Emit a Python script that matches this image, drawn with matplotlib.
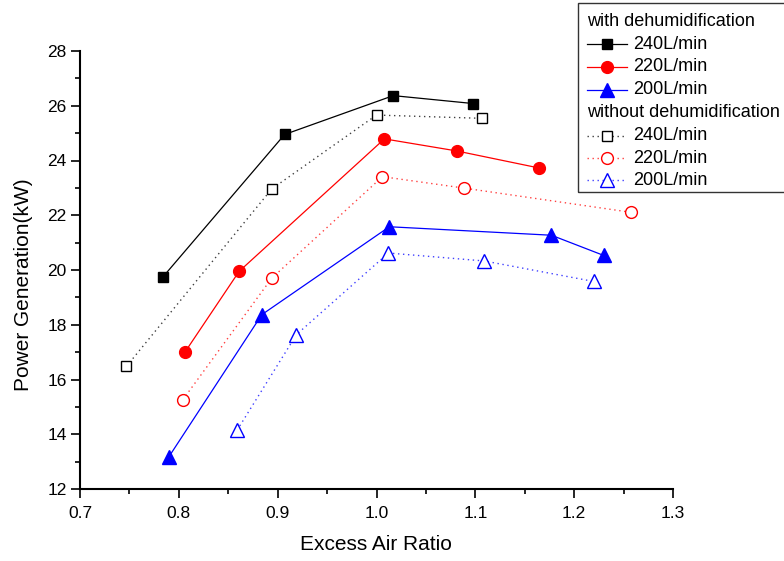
#!/usr/bin/env python
# -*- coding: utf-8 -*-
"""Power generation vs excess air ratio, with and without dehumidification."""
import matplotlib

matplotlib.use("Agg")
import matplotlib.pyplot as plt
from matplotlib.lines import Line2D
from matplotlib.patches import Rectangle
from matplotlib.ticker import MultipleLocator

plt.rcParams["font.family"] = ["Liberation Sans", "DejaVu Sans"]

# flow rate labels
flows = ["240L/min", "220L/min", "200L/min"]

# with dehumidification
x_240_with = [0.784, 0.907, 1.017, 1.098]
p_240_with = [19.75, 24.95, 26.37, 26.08]
x_220_with = [0.806, 0.861, 1.008, 1.081, 1.164]
p_220_with = [16.99, 19.95, 24.79, 24.35, 23.73]
x_200_with = [0.790, 0.884, 1.013, 1.177, 1.230]
p_200_with = [13.18, 18.37, 21.58, 21.27, 20.53]

# without dehumidification
x_240_wo = [0.747, 0.894, 1.000, 1.107]
p_240_wo = [16.48, 22.96, 25.66, 25.54]
x_220_wo = [0.804, 0.894, 1.006, 1.089, 1.257]
p_220_wo = [15.26, 19.70, 23.41, 22.99, 22.11]
x_200_wo = [0.859, 0.919, 1.012, 1.109, 1.220]
p_200_wo = [14.15, 17.64, 20.62, 20.33, 19.58]

W, H = 784, 561
fig = plt.figure(figsize=(W / 100, H / 100), dpi=100)
ax = fig.add_axes([80 / W, 1 - 489 / H, 593 / W, 438 / H])


def px(x, y):
    """Pixel position (from top-left) to figure fraction."""
    return x / W, 1 - y / H


colors = ["black", "red", "blue"]
markers = ["s", "o", "^"]
sizes = [7, 8.5, 9.5]
dot = (0, (1, 2.6))

with_series = [(x_240_with, p_240_with), (x_220_with, p_220_with), (x_200_with, p_200_with)]
wo_series = [(x_240_wo, p_240_wo), (x_220_wo, p_220_wo), (x_200_wo, p_200_wo)]

# line part / marker part kept apart so the dotted lines can be lighter
solid_line, solid_mark, dotted_line, dotted_mark = [], [], [], []
for c, m, s in zip(colors, markers, sizes):
    solid_line.append(dict(color=c, lw=0.9))
    solid_mark.append(dict(marker=m, ms=s, mfc=c, mec=c, mew=1))
    dotted_line.append(dict(color=c, lw=1.0, ls=dot, alpha=0.75))
    dotted_mark.append(dict(marker=m, ms=s, mfc="white", mec=c, mew=1.0))

for (xs, ys), ln, mk in zip(wo_series, dotted_line, dotted_mark):
    ax.plot(xs, ys, **ln)
    ax.plot(xs, ys, ls="none", **mk)
for (xs, ys), ln, mk in zip(with_series, solid_line, solid_mark):
    ax.plot(xs, ys, **ln)
    ax.plot(xs, ys, ls="none", **mk)

ax.set_xlim(0.7, 1.3)
ax.set_ylim(12, 28)
ax.xaxis.set_major_locator(MultipleLocator(0.1))
ax.xaxis.set_minor_locator(MultipleLocator(0.05))
ax.yaxis.set_major_locator(MultipleLocator(2))
ax.yaxis.set_minor_locator(MultipleLocator(1))
ax.set_xticklabels([f"{v:.1f}" for v in ax.get_xticks()])
for side in ["top", "right"]:
    ax.spines[side].set_visible(False)
for side in ["left", "bottom"]:
    ax.spines[side].set_linewidth(1.5)
ax.tick_params(which="major", direction="out", length=6.5, width=1.2,
               labelsize=12.5, color="black")
ax.tick_params(which="minor", direction="out", length=3.5, width=1.2)
ax.tick_params(axis="x", pad=6)
ax.tick_params(axis="y", pad=3)

fig.text(*px(376, 544.5), "Excess Air Ratio", ha="center", va="center", fontsize=15)
fig.text(*px(23.5, 285), "Power Generation(kW)", ha="center", va="center",
         rotation=90, fontsize=15)

# legend drawn by hand so group headers can sit flush left
fig.patches.append(Rectangle(px(578, 192), 220 / W, 189 / H, transform=fig.transFigure,
                             fill=False, ec="#333333", lw=1.0))
rows = [21.7, 44.3, 66.9, 89.5, 112.9, 135.5, 158.1, 180.4]
fig.text(*px(587, rows[0]), "with dehumidification", fontsize=13, va="center")
fig.text(*px(587, rows[4]), "without dehumidification", fontsize=13, va="center")
entries = [(rows[1 + i], solid_line[i], solid_mark[i], flows[i]) for i in range(3)]
entries += [(rows[5 + i], dotted_line[i], dotted_mark[i], flows[i]) for i in range(3)]
for y, ln, mk, label in entries:
    x0, yy = px(587, y)
    x1, _ = px(627, y)
    xm, _ = px(607, y)
    fig.lines.append(Line2D([x0, x1], [yy, yy], transform=fig.transFigure, **ln))
    fig.lines.append(Line2D([xm], [yy], transform=fig.transFigure, ls="none", **mk))
    fig.text(*px(633, y), label, fontsize=13, va="center")

fig.savefig("out.png", dpi=100)
